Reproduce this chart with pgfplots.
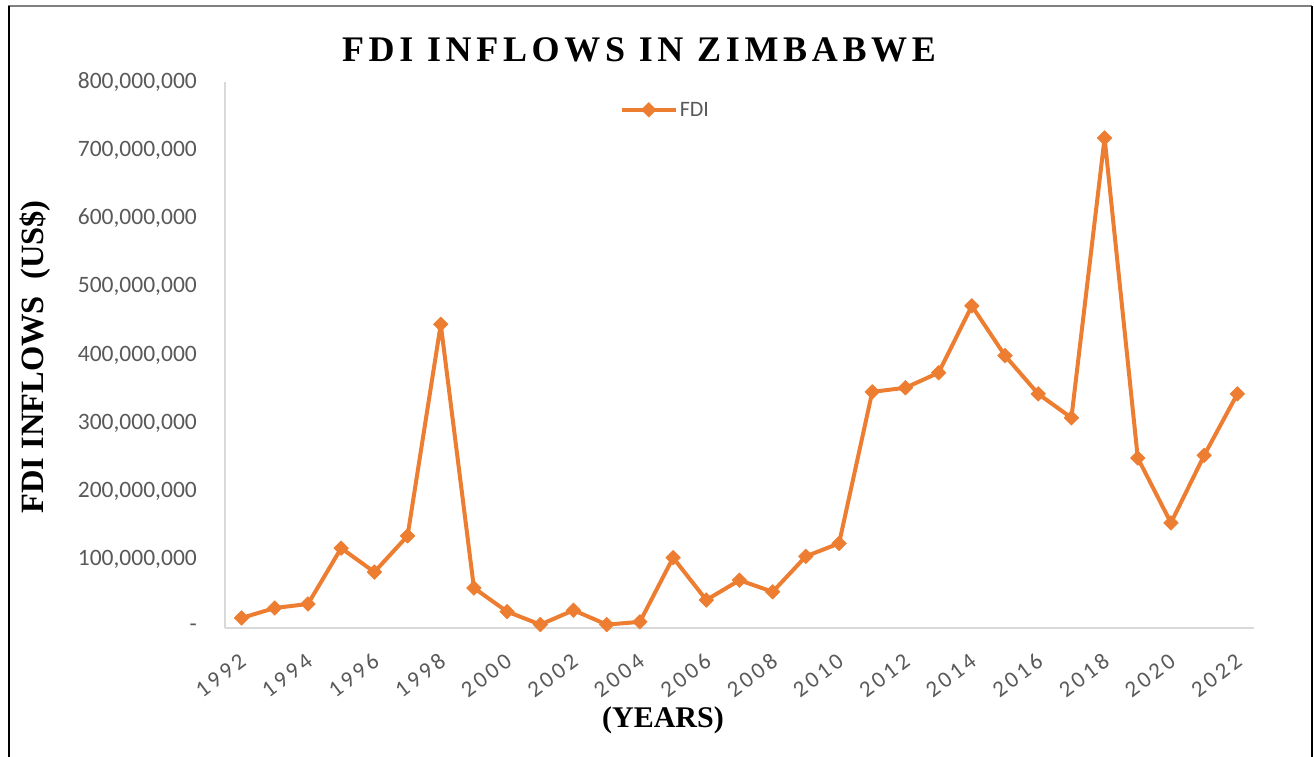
\documentclass[border=0pt]{standalone}
\usepackage{fontspec}
\setmainfont{Carlito}
\newfontfamily\serifb{Liberation Serif}
\newfontfamily\titlefont[LetterSpace=13]{Liberation Serif}
\newfontfamily\tickfont[LetterSpace=14]{Carlito}
\usepackage{pgfplots}
\pgfplotsset{compat=1.18}
\definecolor{fdi}{HTML}{ED7D31}
\definecolor{tickgray}{HTML}{595959}
\definecolor{axgray}{HTML}{D9D9D9}

\begin{document}
\begin{tikzpicture}[x=1pt,y=1pt]
\useasboundingbox (0,0) rectangle (1314,757);
\draw[gray, line width=1.2pt] (8,751) -- (1312,751);
\draw[black, line width=2.5pt] (9,751) -- (9,0);
\draw[black, line width=2.5pt] (1312,751) -- (1312,0);
\begin{axis}[
  at={(225pt,129pt)}, anchor=south west,
  scale only axis, width=1029pt, height=546pt,
  xmin=1991.5, xmax=2022.5, ymin=0, ymax=800000000,
  scaled y ticks=false,
  axis x line*=bottom, axis y line*=left,
  axis line style={axgray, line width=1.5pt, -},
  major tick length=0pt,
  xtick={1992,1994,1996,1998,2000,2002,2004,2006,2008,2010,2012,2014,2016,2018,2020,2022},
  xticklabels={1992,1994,1996,1998,2000,2002,2004,2006,2008,2010,2012,2014,2016,2018,2020,2022},
  xticklabel style={font=\tickfont\fontsize{23}{23}\selectfont, text=tickgray, xshift=-3pt, yshift=-24pt, rotate=37, anchor=north east, inner sep=0pt},
  ytick={0,100000000,200000000,300000000,400000000,500000000,600000000,700000000,800000000},
  yticklabels={{-\hspace{9pt}},{100,000,000},{200,000,000},{300,000,000},{400,000,000},{500,000,000},{600,000,000},{700,000,000},{800,000,000}},
  yticklabel style={font=\fontsize{23.5}{24}\selectfont, text=tickgray, anchor=east, inner sep=0pt, xshift=-28pt},
  legend style={at={(0.428,0.949)}, anchor=center, draw=none, fill=none, font=\fontsize{22}{22}\selectfont, text=tickgray},
  legend image code/.code={\draw[#1, mark repeat=2, mark phase=2] plot coordinates {(0pt,0pt) (27pt,0pt) (54pt,0pt)};},
  clip=false,
]
\addplot[color=fdi, line width=4pt, line join=round, mark=square*, mark size=5.2pt, mark options={rotate=45, solid, fill=fdi, draw=fdi, line width=0.5pt}] coordinates {
(1992,14700000) (1993,29300000) (1994,35200000) (1995,117000000) (1996,82000000)
(1997,135000000) (1998,445000000) (1999,58600000) (2000,24000000) (2001,5000000)
(2002,26000000) (2003,5000000) (2004,9000000) (2005,103000000) (2006,41000000)
(2007,70000000) (2008,53000000) (2009,105000000) (2010,124000000) (2011,346000000)
(2012,352000000) (2013,374000000) (2014,472000000) (2015,399000000) (2016,343000000)
(2017,308000000) (2018,718000000) (2019,249000000) (2020,154000000) (2021,253000000)
(2022,343000000)
};
\addlegendentry{FDI}
\end{axis}
\node at (639,707) {\titlefont\bfseries\fontsize{36}{36}\selectfont FDI INFLOWS IN ZIMBABWE};
\node[rotate=90] at (35,400) {\serifb\bfseries\fontsize{32.5}{33}\selectfont FDI INFLOWS\ \ (US\$)};
\node at (663,37) {\serifb\bfseries\fontsize{30}{30}\selectfont (YEARS)};
\end{tikzpicture}
\end{document}
